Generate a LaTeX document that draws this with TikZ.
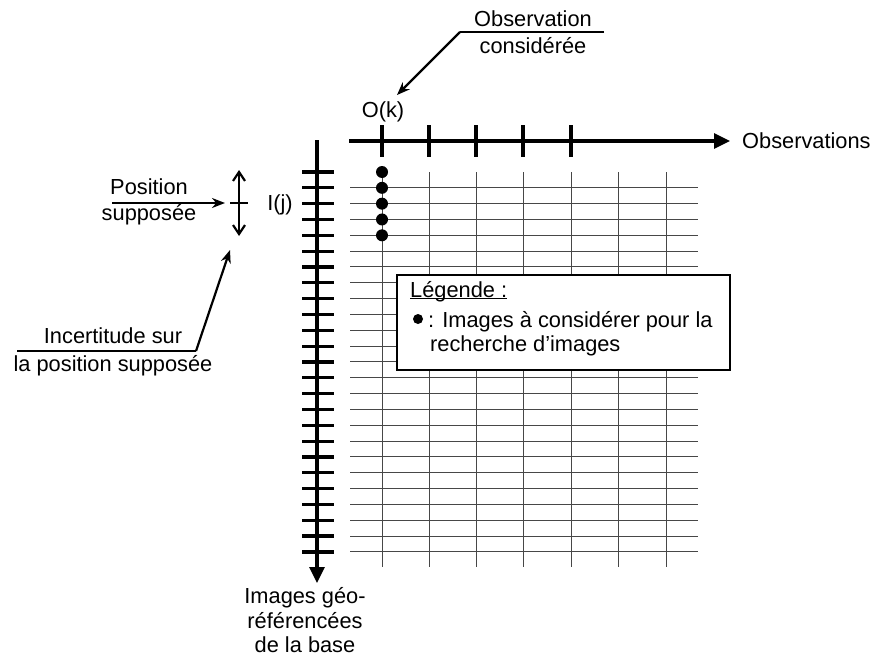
\documentclass[tikz,border=0pt]{standalone}
\usepackage{fontspec}
\setmainfont{Liberation Sans}
\usetikzlibrary{arrows.meta, positioning}

\tikzset{
  axisline/.style={line width=3.2pt, -{Triangle[length=16pt, width=15pt]}},
  axistick/.style={line width=3.2pt},
  gridline/.style={line width=1pt, black!72},
  pointer/.style={line width=2.2pt, -{Stealth[length=13pt, width=10pt]}},
  txt/.style={inner sep=0pt, align=center, font=\fontsize{21.8}{25.5}\selectfont},
}

\begin{document}
\begin{tikzpicture}[x=1pt, y=-1pt]
    \useasboundingbox (0,0) rectangle (874,661);

    % Grid of images / observations
    \foreach \i in {1,...,24}
        \draw[gridline] (350,172+\i*15.83) -- (698,172+\i*15.83);
    \foreach \x in {382,429,476,523,571,618,666}
        \draw[gridline] (\x,172) -- (\x,567);

    % Observations axis
    \coordinate (xstart) at (349,141);
    \coordinate (xend) at (730,141);
    \draw[axisline] (xstart) -- (xend);
    \foreach \x in {382,429,476,523,571}
        \draw[axistick] (\x,125) -- (\x,157);
    \node[txt, anchor=west] (obs) at (742,141) {Observations};
    \node[txt] (ok) at (383,112) {O(k)};

    % Images axis
    \coordinate (ystart) at (317,140);
    \coordinate (yend) at (317,583);
    \draw[axisline] (ystart) -- (yend);
    \foreach \i in {0,...,24}
        \draw[axistick] (302,172+\i*15.83) -- (334,172+\i*15.83);
    \node[txt] (ij) at (280,205) {I(j)};
    \node[txt, below=4pt of yend, xshift=-12pt, font=\fontsize{21.8}{24.8}\selectfont] (base) {Images géo-\\référencées\\de la base};

    % Images to consider
    \foreach \i in {0,...,4}
        \fill (382,172+\i*15.83) circle (6pt);

    % Legend
    \node[draw, line width=2.6pt, fill=white, minimum width=333pt, minimum height=95pt, inner sep=0pt] (legend) at (563.5,322.5) {};
    \node[txt, anchor=base west] (legtitle) at (410,297) {Légende :};
    \draw[line width=1.4pt] ([yshift=-1.5pt]legtitle.base west) -- ([yshift=-1.5pt]legtitle.base east);
    \fill (418,319) circle (5pt);
    \node[txt, anchor=base west] (legdot) at (428,327) {: Images à considérer pour la};
    \node[txt, anchor=base west] (legmore) at (430,351) {recherche d’images};

    % Observation considered
    \node[txt] (obsk) at (533,32) {Observation\\[2pt]considérée};
    \coordinate (obsright) at (604,32);
    \coordinate (obsleft) at (460,32);
    \coordinate (oktip) at (397,95);
    \draw[line width=2.2pt] (obsright) -- (obsleft);
    \draw[pointer] (obsleft) -- (oktip);

    % Assumed position
    \node[txt] (pos) at (149,202) {Position\\supposée};
    \coordinate (posstart) at (112,203);
    \coordinate (postip) at (225,203);
    \draw[pointer] (posstart) -- (postip);

    % Uncertainty
    \coordinate (unctop) at (239,170);
    \coordinate (uncbot) at (239,236);
    \draw[line width=2.2pt, {Straight Barb[length=9pt, width=12pt]}-{Straight Barb[length=9pt, width=12pt]}] (unctop) -- (uncbot);
    \draw[line width=2.2pt] (230,203) -- (248,203);
    \node[txt] (unc) at (113,352) {Incertitude sur\\[2pt]la position supposée};
    \coordinate (uncleft) at (17,351);
    \coordinate (uncright) at (196,351);
    \coordinate (unctip) at (230,250);
    \draw[line width=2.2pt] (uncleft) -- (uncright);
    \draw[pointer] (uncright) -- (unctip);
\end{tikzpicture}
\end{document}
